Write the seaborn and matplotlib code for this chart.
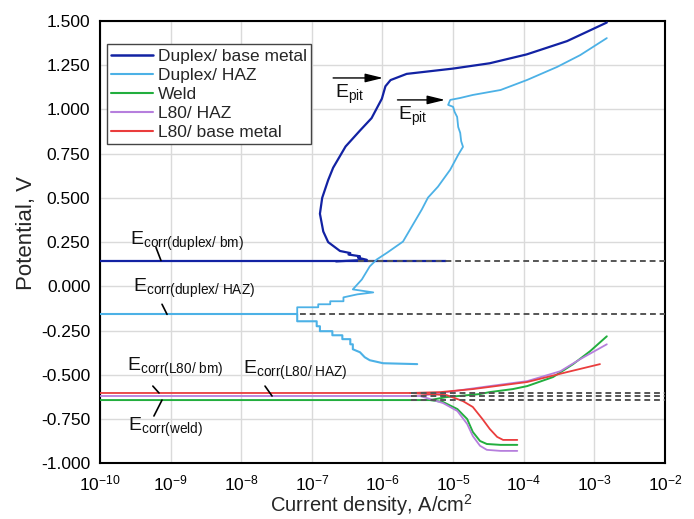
import numpy as np
import pandas as pd
import matplotlib
matplotlib.use("Agg")
import matplotlib.pyplot as plt
import seaborn as sns
from matplotlib.lines import Line2D
from matplotlib.ticker import (LogLocator, MultipleLocator, FormatStrFormatter,
                               LogFormatterSciNotation, NullFormatter)

# ---------------- data (current density A/cm^2, potential V) ----------------
legend_labels = ["Duplex/ base metal", "Duplex/ HAZ", "Weld", "L80/ HAZ", "L80/ base metal"]
colors = ["#1222A3", "#4CB1E6", "#22AE3E", "#B67FDD", "#EA3D3D"]

# Duplex / base metal
dbm_cath_i = [1e-10, 8.0e-6]
dbm_cath_e = [0.141, 0.141]
dbm_anod_i = [2.2e-7, 6.0e-7, 4.5e-7, 4.8e-7, 3.3e-7, 3.5e-7, 2.5e-7, 1.7e-7, 1.45e-7, 1.3e-7,
              1.4e-7, 1.7e-7, 2.0e-7, 3.0e-7, 4.8e-7, 7.0e-7, 9.8e-7, 1.1e-6, 1.3e-6, 2.2e-6,
              1.0e-5, 3.3e-5, 1.1e-4, 4.1e-4, 1.5e-3]
dbm_anod_e = [0.141, 0.150, 0.162, 0.170, 0.180, 0.188, 0.200, 0.250, 0.310, 0.410,
              0.500, 0.600, 0.670, 0.790, 0.880, 0.950, 1.060, 1.130, 1.165, 1.200,
              1.230, 1.260, 1.310, 1.385, 1.490]

# Duplex / HAZ
dhaz_cath0_i = [1e-10, 6.2e-8]
dhaz_cath0_e = [-0.158, -0.158]
dhaz_anod_i = [6.2e-8, 6.2e-8, 1.23e-7, 1.23e-7, 1.82e-7, 1.82e-7, 2.8e-7, 2.8e-7, 4.4e-7, 7.4e-7,
               3.8e-7, 5.1e-7, 6.6e-7, 8.3e-7, 1.17e-6, 1.95e-6, 2.6e-6, 3.6e-6, 4.4e-6, 6.1e-6,
               9.1e-6, 1.18e-5, 1.38e-5, 1.30e-5, 1.26e-5, 1.18e-5, 1.14e-5, 1.05e-5, 1.0e-5,
               8.5e-6, 9.1e-6, 1.26e-5, 1.9e-5, 4.7e-5, 1.12e-4, 2.96e-4, 6.3e-4, 1.5e-3]
dhaz_anod_e = [-0.158, -0.118, -0.118, -0.101, -0.101, -0.084, -0.084, -0.062, -0.045, -0.034,
               -0.017, 0.039, 0.113, 0.152, 0.191, 0.253, 0.338, 0.434, 0.501, 0.563,
               0.659, 0.743, 0.788, 0.820, 0.867, 0.900, 0.957, 0.985, 1.014,
               1.025, 1.053, 1.064, 1.081, 1.109, 1.166, 1.239, 1.306, 1.402]
dhaz_cath_i = [6.2e-8, 6.2e-8, 1.17e-7, 1.17e-7, 1.3e-7, 1.3e-7, 1.95e-7, 1.95e-7, 2.7e-7, 2.7e-7,
               3.5e-7, 3.5e-7, 3.8e-7, 3.8e-7, 4.8e-7, 5.6e-7, 6.6e-7, 1.02e-6, 3.1e-6]
dhaz_cath_e = [-0.158, -0.197, -0.197, -0.225, -0.225, -0.253, -0.253, -0.276, -0.276, -0.298,
               -0.298, -0.327, -0.327, -0.355, -0.372, -0.400, -0.417, -0.434, -0.439]

# Weld
weld_anod_i = [1e-10, 4.7e-6, 8.1e-6, 2.4e-5, 3.3e-5, 7.0e-5, 1.12e-4, 2.6e-4, 5.0e-4, 8.7e-4, 1.5e-3]
weld_anod_e = [-0.642, -0.642, -0.625, -0.608, -0.597, -0.580, -0.563, -0.512, -0.439, -0.366, -0.282]
weld_cath_i = [4.7e-6, 7.2e-6, 1.15e-5, 1.58e-5, 1.9e-5, 2.4e-5, 3.0e-5, 4.7e-5, 8.1e-5]
weld_cath_e = [-0.642, -0.653, -0.693, -0.749, -0.822, -0.873, -0.890, -0.895, -0.895]

# L80 / HAZ
lhaz_anod_i = [1e-10, 3.4e-6, 6.6e-6, 3.3e-5, 1.12e-4, 3.3e-4, 6.3e-4, 1.5e-3]
lhaz_anod_e = [-0.619, -0.619, -0.602, -0.563, -0.535, -0.479, -0.411, -0.327]
lhaz_cath_i = [3.4e-6, 4.7e-6, 7.2e-6, 1.15e-5, 1.58e-5, 1.9e-5, 2.4e-5, 3.0e-5, 4.7e-5, 8.1e-5]
lhaz_cath_e = [-0.619, -0.636, -0.659, -0.704, -0.777, -0.845, -0.900, -0.923, -0.929, -0.929]

# L80 / base metal
lbm_anod_i = [1e-10, 2.45e-6, 6.6e-6, 1.9e-5, 1.12e-4, 4.1e-4, 1.2e-3]
lbm_anod_e = [-0.602, -0.602, -0.597, -0.580, -0.540, -0.484, -0.439]
lbm_cath_i = [2.45e-6, 8.1e-6, 1.38e-5, 1.9e-5, 2.6e-5, 3.3e-5, 4.2e-5, 5.1e-5, 8.1e-5]
lbm_cath_e = [-0.602, -0.614, -0.648, -0.681, -0.749, -0.805, -0.850, -0.867, -0.867]

# Ecorr dashed extensions
ecorr_values = [0.141, -0.158, -0.602, -0.619, -0.642]
ecorr_dash_start = [4.5e-7, 6.8e-8, 2.5e-6, 2.5e-6, 2.5e-6]

# ---------------- style ----------------
sns.set_theme(style="white")
plt.rcParams.update({
    "font.family": ["Liberation Sans", "DejaVu Sans"],
    "mathtext.fontset": "custom",
    "mathtext.rm": "Liberation Sans",
    "mathtext.it": "Liberation Sans:italic",
    "mathtext.bf": "Liberation Sans:bold",
    "axes.unicode_minus": False,
})

fig = plt.figure(figsize=(6.94, 5.19), dpi=100)
ax = fig.add_axes([0.1441, 0.107, 0.8141, 0.853])
ax.set_xscale("log")

segments = [
    (0, dbm_cath_i, dbm_cath_e, 1.6), (0, dbm_anod_i, dbm_anod_e, 1.6),
    (1, dhaz_cath0_i, dhaz_cath0_e, 1.5), (1, dhaz_anod_i, dhaz_anod_e, 1.3), (1, dhaz_cath_i, dhaz_cath_e, 1.5),
    (2, weld_anod_i, weld_anod_e, 1.4), (2, weld_cath_i, weld_cath_e, 1.4),
    (3, lhaz_anod_i, lhaz_anod_e, 1.3), (3, lhaz_cath_i, lhaz_cath_e, 1.3),
    (4, lbm_anod_i, lbm_anod_e, 1.3), (4, lbm_cath_i, lbm_cath_e, 1.3),
]
for k, xi, ye, lw in segments:
    df = pd.DataFrame({"i": xi, "E": ye})
    sns.lineplot(data=df, x="i", y="E", sort=False, estimator=None, color=colors[k],
                 lw=lw, ax=ax, legend=False, zorder=3)

for e0, s in zip(ecorr_values, ecorr_dash_start):
    ax.plot([s, 1e-2], [e0, e0], color="#555555", lw=1.4, ls=(0, (3, 2)), zorder=4)

# axes
ax.set_xlim(1e-10, 1e-2)
ax.set_ylim(-1.0, 1.5)
ax.xaxis.set_major_locator(LogLocator(base=10, numticks=20))
ax.xaxis.set_minor_locator(LogLocator(base=10, subs=np.arange(2, 10), numticks=200))
ax.xaxis.set_major_formatter(LogFormatterSciNotation())
ax.xaxis.set_minor_formatter(NullFormatter())
ax.yaxis.set_major_locator(MultipleLocator(0.25))
ax.yaxis.set_minor_locator(MultipleLocator(0.125))
ax.yaxis.set_major_formatter(FormatStrFormatter("%.3f"))
ax.tick_params(which="both", direction="in", top=False, right=False, colors="black",
               labelsize=12.5, width=1.2)
ax.tick_params(which="major", length=5.5, pad=7)
ax.tick_params(which="minor", length=3)
ax.grid(which="major", color="#dadada", lw=1.0, zorder=0)
for sp in ax.spines.values():
    sp.set_linewidth(1.5)
    sp.set_color("black")

ax.set_ylabel("Potential, V", fontsize=16)
ax.set_xlabel("Current density, A/cm$^2$", fontsize=14.5)
ax.yaxis.set_label_coords(-0.112, 0.52)
ax.xaxis.set_label_coords(0.481, -0.1225)
ax.xaxis.label.set_va("bottom")

# legend
handles = [Line2D([], [], color=c, lw=1.8 if i == 0 else 1.5) for i, c in enumerate(colors)]
leg = ax.legend(handles, legend_labels, loc="upper left", bbox_to_anchor=(0.012, 0.947),
                borderaxespad=0, fontsize=12.5, frameon=True, fancybox=False,
                edgecolor="#444444", framealpha=1, labelspacing=0.22, borderpad=0.25,
                handlelength=2.4, handletextpad=0.3)
leg.get_frame().set_linewidth(1.0)
leg.set_zorder(6)

# annotations
ann_texts = [r"$\mathregular{E_{corr(duplex/\ bm)}}$", r"$\mathregular{E_{corr(duplex/\ HAZ)}}$",
             r"$\mathregular{E_{corr(L80/\ bm)}}$", r"$\mathregular{E_{corr(L80/\ HAZ)}}$",
             r"$\mathregular{E_{corr(weld)}}$"]
ann_pos = [(2.66e-10, 0.236), (2.9e-10, -0.034), (2.4e-10, -0.479), (1.06e-8, -0.495), (2.5e-10, -0.816)]
ann_lines = [((6.2e-10, 0.22), (7.3e-10, 0.146)), ((7.55e-10, -0.101), (8.9e-10, -0.158)),
             ((5.6e-10, -0.563), (6.85e-10, -0.602)), ((2.17e-8, -0.563), (2.73e-8, -0.619)),
             ((5.8e-10, -0.732), (7.55e-10, -0.642))]
for t, (x, y) in zip(ann_texts, ann_pos):
    ax.text(x, y, t, fontsize=14, ha="left", va="baseline", color="#111111", zorder=7)
for (p0, p1) in ann_lines:
    ax.plot([p0[0], p1[0]], [p0[1], p1[1]], color="black", lw=1.2, zorder=7)

pit_arrows = [((2.0e-7, 1.177), (1.02e-6, 1.177)), ((1.63e-6, 1.053), (7.7e-6, 1.053))]
pit_text_pos = [(2.15e-7, 1.064), (1.66e-6, 0.94)]
for (p0, p1) in pit_arrows:
    ax.annotate("", xy=p1, xytext=p0,
                arrowprops=dict(arrowstyle="-|>,head_length=0.9,head_width=0.22",
                                color="black", lw=1.0, shrinkA=0, shrinkB=0), zorder=7)
for (x, y) in pit_text_pos:
    ax.text(x, y, r"$\mathregular{E_{pit}}$", fontsize=14, ha="left", va="baseline",
            color="#111111", zorder=7)

fig.savefig("out.png", dpi=100)
